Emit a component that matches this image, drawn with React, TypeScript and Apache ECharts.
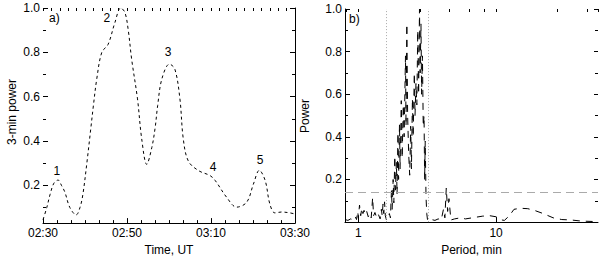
import React, { useEffect, useRef } from "react";
import * as echarts from "echarts";

// Panel a): 3-min power vs time (minutes after 02:30 UT)
const timeMin = [0, 0.9, 1.7, 2.6, 3.6, 4.4, 5.2, 6.4, 7.9, 8.8, 9.5, 10.5, 11.4, 12.0, 12.8, 14.0, 15.5, 17.1, 18.5, 19.5, 20.3, 21.1, 22.5, 23.5, 24.7, 25.9, 26.7, 27.3, 28.3, 30.1, 31.4, 32.6, 33.4, 34.6, 37.0, 39.8, 41.0, 43.7, 46.1, 48.5, 50.1, 51.5, 52.9, 54.0, 55.2, 56.8, 58.8, 60];
const power3 = [0.045, 0.10, 0.16, 0.21, 0.224, 0.20, 0.17, 0.10, 0.067, 0.10, 0.16, 0.31, 0.46, 0.56, 0.68, 0.80, 0.836, 0.933, 1.0, 0.98, 0.90, 0.77, 0.59, 0.41, 0.295, 0.37, 0.46, 0.56, 0.68, 0.747, 0.724, 0.59, 0.41, 0.31, 0.267, 0.244, 0.222, 0.147, 0.102, 0.124, 0.206, 0.268, 0.222, 0.117, 0.076, 0.08, 0.076, 0.071];
const timeTicks = ["02:30", "02:50", "03:10", "03:30"];
const peakNames = ["1", "2", "3", "4", "5"];
const peakLabelTime = [3.3, 15.2, 29.8, 40.5, 51.7];
const peakLabelValue = [0.267, 0.956, 0.8, 0.284, 0.316];

// Panel b): power spectrum vs period (min)
const periodMin = [0.80, 0.84, 0.88, 0.92, 0.95, 0.97, 0.99, 1.00, 1.02, 1.04, 1.06, 1.08, 1.10, 1.12, 1.15, 1.18, 1.21, 1.24, 1.27, 1.29, 1.32, 1.36, 1.40, 1.44, 1.47, 1.49, 1.51, 1.53, 1.55, 1.57, 1.60, 1.64, 1.68, 1.71, 1.74, 1.76, 1.79, 1.81, 1.84, 1.86, 1.89, 1.91, 1.94, 1.96, 1.99, 2.01, 2.05, 2.08, 2.12, 2.15, 2.20, 2.22, 2.25, 2.28, 2.32, 2.36, 2.40, 2.43, 2.47, 2.50, 2.55, 2.58, 2.62, 2.66, 2.70, 2.74, 2.78, 2.81, 2.85, 2.88, 2.92, 2.96, 3.00, 3.03, 3.06, 3.10, 3.14, 3.18, 3.25, 3.40, 3.60, 3.80, 4.00, 4.15, 4.25, 4.35, 4.45, 4.55, 4.70, 5.00, 5.50, 6.00, 7.00, 8.00, 9.00, 10.00, 11.00, 11.50, 12.50, 13.50, 15.00, 17.00, 19.00, 22.00, 26.00, 30.00, 35.00, 40.00, 45.00, 50.00, 55.00];
const spectrumPower = [0.012, 0.008, 0.015, 0.010, 0.025, 0.012, 0.050, 0.020, 0.080, 0.030, 0.065, 0.040, 0.055, 0.035, 0.050, 0.025, 0.040, 0.020, 0.115, 0.030, 0.045, 0.020, 0.035, 0.015, 0.060, 0.030, 0.085, 0.040, 0.095, 0.030, 0.010, 0.020, 0.040, 0.020, 0.150, 0.060, 0.200, 0.090, 0.310, 0.150, 0.280, 0.130, 0.420, 0.200, 0.460, 0.250, 0.570, 0.300, 0.550, 0.400, 0.780, 0.450, 0.930, 0.500, 0.320, 0.220, 0.450, 0.250, 0.580, 0.400, 0.700, 0.500, 0.650, 0.550, 0.900, 0.600, 1.000, 0.700, 0.930, 0.600, 0.780, 0.450, 0.500, 0.200, 0.380, 0.120, 0.040, 0.010, 0.005, 0.012, 0.008, 0.015, 0.010, 0.060, 0.020, 0.160, 0.050, 0.110, 0.010, 0.015, 0.020, 0.015, 0.022, 0.028, 0.030, 0.025, 0.010, 0.008, 0.030, 0.060, 0.065, 0.063, 0.055, 0.040, 0.020, 0.012, 0.010, 0.006, 0.004, 0.003, 0.002];
const bandPeriods = [1.6, 3.2];
const significance = 0.14;

const FONT = "'Liberation Sans', Arial, Helvetica, sans-serif";

export default function App() {
  const ref = useRef<HTMLDivElement>(null);
  useEffect(() => {
    if (!ref.current) return;
    const chart = echarts.init(ref.current, undefined, { renderer: "svg" });
    const txt = { color: "#000", fontFamily: FONT, fontSize: 12 };
    const lineBlack = { show: true, lineStyle: { color: "#000", width: 1 } };
    const fmtTime = (v: number) => {
      const idx = Math.round(v / 20);
      return Math.abs(v - idx * 20) < 0.01 ? timeTicks[idx] : "";
    };
    chart.setOption({
      animation: false,
      backgroundColor: "#fff",
      textStyle: { fontFamily: FONT },
      grid: [
        { left: 43, right: 305, top: 8, bottom: 35 },
        { left: 345, right: 2, top: 9, bottom: 34 },
      ],
      xAxis: [
        {
          gridIndex: 0, type: "value", min: 0, max: 60, interval: 20, position: "bottom",
          axisLine: { ...lineBlack, onZero: false },
          axisTick: { inside: true, length: 5, lineStyle: { color: "#000" } },
          minorTick: { show: true, splitNumber: 6, length: 3, lineStyle: { color: "#000" } },
          axisLabel: { ...txt, margin: 4, formatter: fmtTime },
          splitLine: { show: false },
          name: "Time, UT", nameLocation: "middle", nameGap: 17,
          nameTextStyle: { ...txt, verticalAlign: "top" },
        },
        {
          gridIndex: 0, type: "value", min: 0, max: 60, interval: 20, position: "top",
          axisLine: { show: false, onZero: false },
          axisTick: { inside: true, length: 3, lineStyle: { color: "#000" } },
          minorTick: { show: true, splitNumber: 10, length: 3, lineStyle: { color: "#000" } },
          axisLabel: { show: false },
          splitLine: { show: false },
        },
        {
          gridIndex: 1, type: "log", logBase: 10, min: 0.8, max: 55, position: "bottom",
          axisLine: { ...lineBlack, onZero: false },
          axisTick: { inside: true, length: 5, lineStyle: { color: "#000" } },
          axisLabel: { ...txt, margin: 5, showMinLabel: false, showMaxLabel: false, formatter: (v: number) => String(Math.round(v)) },
          splitLine: { show: false },
          name: "Period, min", nameLocation: "middle", nameGap: 17,
          nameTextStyle: { ...txt, verticalAlign: "top" },
        },
        {
          gridIndex: 1, type: "log", logBase: 10, min: 0.8, max: 55, position: "top",
          axisLine: { show: false, onZero: false },
          axisTick: { inside: true, length: 3, lineStyle: { color: "#000" } },
          minorTick: { show: true, splitNumber: 5, length: 3, lineStyle: { color: "#000" } },
          axisLabel: { show: false },
          splitLine: { show: false },
        },
      ],
      yAxis: [
        {
          gridIndex: 0, type: "value", min: 0.03, max: 1, splitNumber: 5, position: "left",
          axisLine: { show: false, onZero: false },
          axisTick: { inside: true, length: 5, lineStyle: { color: "#000" } },
          minorTick: { show: true, splitNumber: 2, length: 3, lineStyle: { color: "#000" } },
          axisLabel: { ...txt, margin: 3, showMinLabel: false, formatter: (v: number) => v.toFixed(1) },
          splitLine: { show: false },
        },
        {
          gridIndex: 0, type: "value", min: 0.03, max: 1, splitNumber: 5, position: "right",
          axisLine: { ...lineBlack, onZero: false },
          axisTick: { inside: true, length: 5, lineStyle: { color: "#000" } },
          minorTick: { show: true, splitNumber: 2, length: 3, lineStyle: { color: "#000" } },
          axisLabel: { show: false },
          splitLine: { show: false },
        },
        {
          gridIndex: 1, type: "value", min: 0, max: 1, interval: 0.2, position: "left",
          axisLine: { ...lineBlack, onZero: false },
          axisTick: { inside: true, length: 5, lineStyle: { color: "#000" } },
          minorTick: { show: true, splitNumber: 2, length: 3, lineStyle: { color: "#000" } },
          axisLabel: { ...txt, margin: 3, showMinLabel: false, formatter: (v: number) => v.toFixed(1) },
          splitLine: { show: false },
        },
        {
          gridIndex: 1, type: "value", min: 0, max: 1, interval: 0.2, position: "right",
          axisLine: { show: false, onZero: false },
          axisTick: { inside: true, length: 4, lineStyle: { color: "#000" } },
          minorTick: { show: true, splitNumber: 2, length: 3, lineStyle: { color: "#000" } },
          axisLabel: { show: false },
          splitLine: { show: false },
        },
      ],
      graphic: [
        { type: "text", x: 12, y: 112, rotation: Math.PI / 2, style: { text: "3-min power", fill: "#000", font: `12px ${FONT}`, align: "center", verticalAlign: "middle" } },
        { type: "text", x: 305, y: 116, rotation: Math.PI / 2, style: { text: "Power", fill: "#000", font: `12px ${FONT}`, align: "center", verticalAlign: "middle" } },
        { type: "text", x: 49, y: 18, style: { text: "a)", fill: "#000", font: `12px ${FONT}`, align: "left", verticalAlign: "middle" } },
        { type: "text", x: 349, y: 19, style: { text: "b)", fill: "#000", font: `12px ${FONT}`, align: "left", verticalAlign: "middle" } },
      ],
      series: [
        {
          type: "line", xAxisIndex: 0, yAxisIndex: 0, smooth: 0.35, showSymbol: false,
          data: timeMin.map((t, i) => [t, power3[i]]),
          lineStyle: { color: "#000", width: 1, type: [3, 3] },
        },
        {
          type: "custom", xAxisIndex: 0, yAxisIndex: 0,
          data: peakNames.map((n, i) => [peakLabelTime[i], peakLabelValue[i], i]),
          renderItem: (params: any, api: any) => {
            const pt = api.coord([api.value(0), api.value(1)]);
            return {
              type: "text", x: pt[0], y: pt[1],
              style: { text: peakNames[api.value(2)], fill: "#000", font: `12px ${FONT}`, align: "center", verticalAlign: "middle" },
            };
          },
        },
        {
          type: "line", xAxisIndex: 2, yAxisIndex: 2, showSymbol: false,
          data: periodMin.map((p, i) => [p, spectrumPower[i]]),
          lineStyle: { color: "#000", width: 1, type: [7, 6] },
          markLine: {
            silent: true, symbol: "none", label: { show: false },
            data: [
              ...bandPeriods.map((p) => ({ xAxis: p, lineStyle: { color: "#aaa", width: 1, type: [1, 2] } })),
              { yAxis: significance, lineStyle: { color: "#aaa", width: 1, type: [8, 5] } },
            ],
          },
        },
      ],
    });
    return () => chart.dispose();
  }, []);
  return (
    <div style={{ position: "fixed", left: 0, top: 0, width: 600, height: 261, background: "#fff" }}>
      <div ref={ref} style={{ width: 600, height: 261 }} />
    </div>
  );
}
